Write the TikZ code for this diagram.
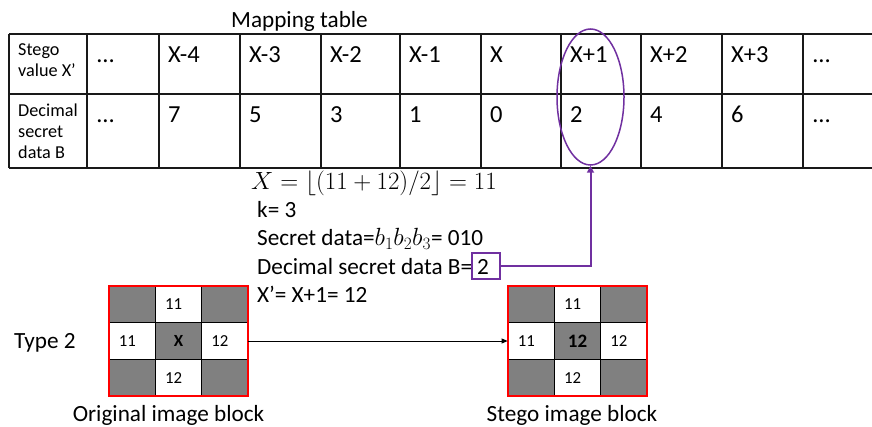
\documentclass[tikz,border=0pt]{standalone}
\usepackage{fontspec}
\setmainfont{Carlito}
\usetikzlibrary{arrows.meta,shapes.geometric}
\definecolor{purp}{HTML}{7030A0}
\definecolor{cellgray}{HTML}{808080}
\definecolor{gridred}{HTML}{FF0000}
\begin{document}
\begin{tikzpicture}[x=1pt,y=-1pt,
  tline/.style={line width=1.3pt, draw=black!90},
  bigtxt/.style={font=\fontsize{24.5}{28}\selectfont, inner sep=0pt, anchor=base west},
  smalltxt/.style={font=\fontsize{18.2}{21}\selectfont, inner sep=0pt, anchor=west, align=left},
  midtxt/.style={font=\fontsize{23.2}{27}\selectfont, inner sep=0pt, anchor=base west},
  cellbox/.style={draw=black, line width=0.8pt, minimum width=46.33pt, minimum height=36.67pt, inner sep=0pt},
  celltxt/.style={font=\fontsize{16.8}{19}\selectfont, inner sep=0pt, anchor=west},
  capt/.style={font=\fontsize{23.2}{27}\selectfont, inner sep=0pt, anchor=base}]
\useasboundingbox (0,0) rectangle (872,427);

% ---------------- mapping table ----------------
\node[capt] (title) at (299.5,28) {Mapping table};
\foreach \y in {34,94,168} {\draw[tline] (9,\y) -- (872,\y);}
\foreach \x in {9,87,159,240,321,400,481,561,641,722,803} {\draw[tline] (\x,34) -- (\x,168);}

\node[smalltxt] (hdrA) at (18,60.5) {Stego\\value X’};
\node[smalltxt] (hdrB) at (18,131.5) {Decimal\\secret\\data B};

\foreach \x/\t/\b [count=\i] in {97/…/…,168/X-4/7,249/X-3/5,330/X-2/3,409/X-1/1,490/X/0,570/X+1/2,650/X+2/4,731/X+3/6,813/…/…} {
  \node[bigtxt] (top\i) at (\x,63) {\t};
  \node[bigtxt] (bot\i) at (\x,123) {\b};
}

\node[draw=purp, line width=1.5pt, ellipse, minimum width=67pt, minimum height=136pt, inner sep=0pt] (ell) at (590.5,97) {};

% ---------------- explanation text ----------------
\node[font=\fontsize{25.5}{29}\selectfont, inner sep=0pt, anchor=base west] (eq) at (251,190) {$X=\lfloor(11+12)/2\rfloor=11$};
\node[midtxt] (kline) at (257,218) {k= 3};
\node[midtxt] (sline) at (257,246) {Secret data=$b_1b_2b_3$= 010};
\node[midtxt] (dline) at (257,275) {Decimal secret data B=};
\node[draw=purp, line width=1.5pt, minimum width=28pt, minimum height=26pt, inner sep=0pt] (bbox) at (486,266) {};
\node[midtxt] (bval) at (477,275) {2};
\node[midtxt] (xline) at (257,302) {X’= X+1= 12};

\draw[purp, line width=2pt, -{Triangle[length=7pt,width=7pt]}] (bbox.east) -| (ell.south);

% ---------------- image blocks ----------------
\foreach \ox/\nm in {109/L,508/R} {
  \foreach \r in {1,2,3} {
    \foreach \c in {1,2,3} {
      \pgfmathtruncatemacro{\odd}{mod(\r+\c,2)}
      \ifnum\odd=0
        \node[cellbox, fill=cellgray] (\nm\r\c) at ({\ox+46.33*(\c-0.5)},{286+36.67*(\r-0.5)}) {};
      \else
        \node[cellbox, fill=white] (\nm\r\c) at ({\ox+46.33*(\c-0.5)},{286+36.67*(\r-0.5)}) {};
      \fi
    }
  }
  \draw[gridred, line width=2pt] (\nm11.north west) rectangle (\nm33.south east);
}

% left block texts
\node[celltxt] (L12t) at ([xshift=10pt]L12.west) {11};
\node[celltxt] (L21t) at ([xshift=10pt]L21.west) {11};
\node[font=\fontsize{17}{20}\selectfont\bfseries, inner sep=0pt] (L22t) at (L22) {X};
\node[celltxt] (L23t) at ([xshift=10pt]L23.west) {12};
\node[celltxt] (L32t) at ([xshift=10pt]L32.west) {12};
% right block texts
\node[celltxt] (R12t) at ([xshift=10pt]R12.west) {11};
\node[celltxt] (R21t) at ([xshift=10pt]R21.west) {11};
\node[font=\fontsize{19}{22}\selectfont\bfseries, inner sep=0pt] (R22t) at (R22) {12};
\node[celltxt] (R23t) at ([xshift=10pt]R23.west) {12};
\node[celltxt] (R32t) at ([xshift=10pt]R32.west) {12};

\draw[line width=0.8pt, -{Triangle[length=6pt,width=5pt]}] (L23.east) -- (R21.west);

\node[midtxt] (type) at (14,348) {Type 2};
\node[capt] (origcap) at (168.5,421) {Original image block};
\node[capt] (stegocap) at (572,421) {Stego image block};
\end{tikzpicture}
\end{document}
